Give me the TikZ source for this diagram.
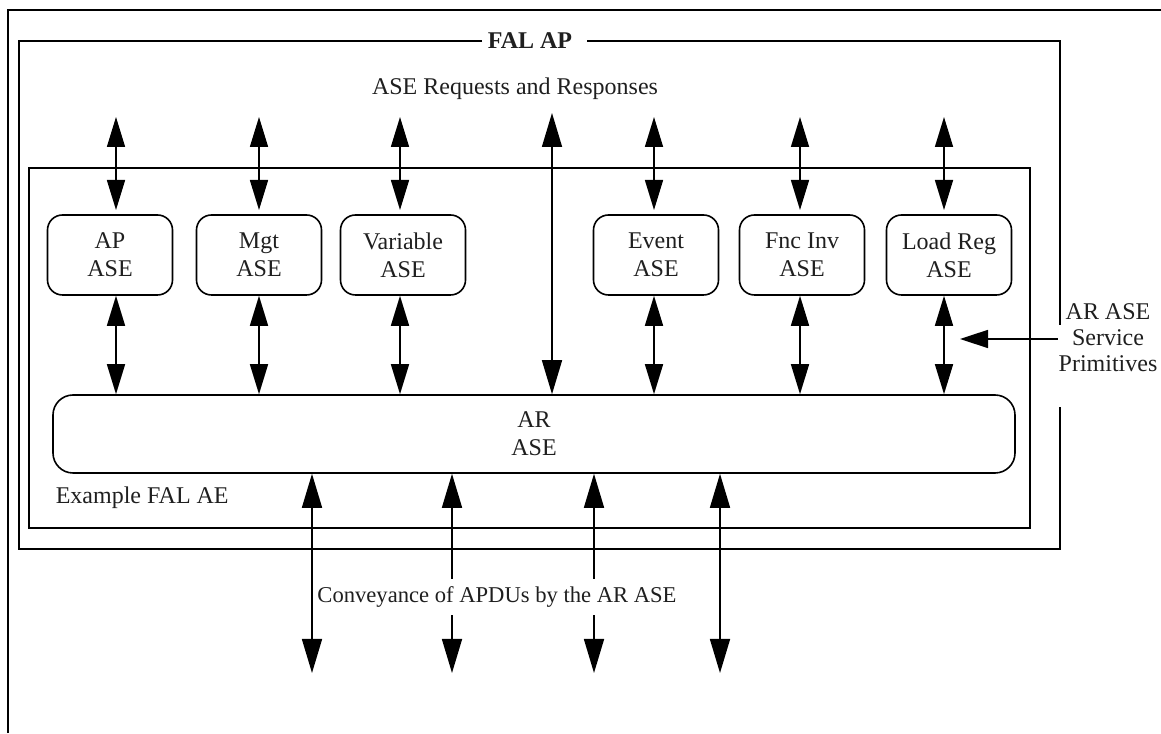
\documentclass[tikz,border=0pt]{standalone}
\usepackage{fontspec}
\setmainfont{Liberation Serif}
\usetikzlibrary{arrows.meta,%
                shapes,positioning}
\begin{document}
\begin{tikzpicture}[x=0.5pt,y=0.5pt,line width=0.8pt,
  font=\fontsize{12}{14}\selectfont,text=black!88,
  ase/.style={draw,rounded corners=7.5pt,minimum width=62.5pt,minimum height=40pt,align=center,inner sep=0pt},
  arbox/.style={draw,rounded corners=10pt,minimum width=481pt,minimum height=39pt,align=center,inner sep=0pt},
  dbl/.style={{Triangle[length=15pt,width=9pt]}-{Triangle[length=15pt,width=9pt]}},
  bigdbl/.style={{Triangle[length=17pt,width=10pt]}-{Triangle[length=17pt,width=10pt]}},
  sarr/.style={-{Triangle[length=14pt,width=9pt]}}]
\useasboundingbox (0,0) rectangle (1161,733);

\draw (8,0) -- (8,723) -- (1161,723);
\draw (482,692) -- (19,692) -- (19,184) -- (1060,184) -- (1060,326);
\draw (1060,408) -- (1060,692) -- (587,692);
\draw (29,205) rectangle (1030,565);

\node[font=\fontsize{12}{14}\selectfont\bfseries] (fap) at (530,692) {FAL AP};
\node (req) at (515,644) {ASE Requests and Responses};
\node[anchor=west,inner sep=0pt] (fae) at (55,235) {Example FAL AE};

\node[ase] (ap) at (110,478) {AP\\ASE};
\node[ase] (mgt) at (259,478) {Mgt\\ASE};
\node[ase] (var) at (403,478) {Variable\\ASE};
\node[ase] (evt) at (656,478) {Event\\ASE};
\node[ase] (fnc) at (802,478) {Fnc Inv\\ASE};
\node[ase] (lreg) at (949,478) {Load Reg\\ASE};
\node[arbox] (ar) at (534,299) {AR\\ASE};

\node[align=center,font=\fontsize{12}{13}\selectfont,inner sep=0pt] (prim) at (1108,395) {AR ASE\\Service\\Primitives};

\coordinate (rq) at (0,616);
\coordinate (rqb) at (0,523);
\coordinate (l1) at (116,0);
\coordinate (l2) at (259,0);
\coordinate (l3) at (400,0);
\coordinate (l4) at (654,0);
\coordinate (l5) at (800,0);
\coordinate (l6) at (944,0);
\coordinate (mid) at (552,620);
\coordinate (pt) at (960,394);
\coordinate (b1) at (312,60);
\coordinate (b2) at (452,60);
\coordinate (b3) at (594,60);
\coordinate (b4) at (720,60);

\draw[dbl] (l1 |- rq) -- (l1 |- rqb);
\draw[dbl] (l2 |- rq) -- (l2 |- rqb);
\draw[dbl] (l3 |- rq) -- (l3 |- rqb);
\draw[dbl] (l4 |- rq) -- (l4 |- rqb);
\draw[dbl] (l5 |- rq) -- (l5 |- rqb);
\draw[dbl] (l6 |- rq) -- (l6 |- rqb);
\draw[bigdbl] (mid) -- (mid |- ar.north);

\draw[dbl] (l1 |- ap.south) -- (l1 |- ar.north);
\draw[dbl] (l2 |- mgt.south) -- (l2 |- ar.north);
\draw[dbl] (l3 |- var.south) -- (l3 |- ar.north);
\draw[dbl] (l4 |- evt.south) -- (l4 |- ar.north);
\draw[dbl] (l5 |- fnc.south) -- (l5 |- ar.north);
\draw[dbl] (l6 |- lreg.south) -- (l6 |- ar.north);

\draw[sarr] (prim.west |- pt) -- (pt);

\draw[bigdbl] (b1 |- ar.south) -- (b1);
\draw[bigdbl] (b2 |- ar.south) -- (b2);
\draw[bigdbl] (b3 |- ar.south) -- (b3);
\draw[bigdbl] (b4 |- ar.south) -- (b4);

\node[fill=white,font=\fontsize{11.3}{13}\selectfont,inner xsep=0pt,inner ysep=3.6pt] (apdu) at (497,136) {Conveyance of APDUs by the AR ASE};

\end{tikzpicture}
\end{document}
